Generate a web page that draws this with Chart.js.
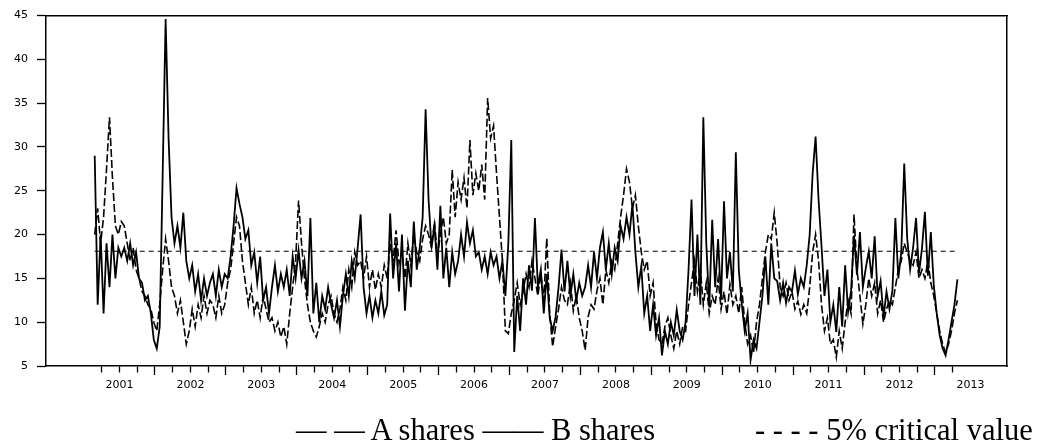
<!DOCTYPE html>
<html>
<head>
<meta charset="utf-8">
<script src="https://cdn.jsdelivr.net/npm/chart.js@4.4.1/dist/chart.umd.min.js"></script>
<style>
  html, body { margin: 0; padding: 0; background: #fff; }
  #wrap { position: relative; width: 1037px; height: 446px; overflow: hidden; }
  #chart { position: absolute; left: 0; top: 0; }
  .legend {
    position: absolute; top: 415px;
    font-family: 'Liberation Serif', 'Times New Roman', serif;
    font-size: 30.5px; line-height: 30px; color: #000; white-space: pre;
  }
</style>
</head>
<body>
<div id="wrap">
  <canvas id="chart" width="1037" height="446"></canvas>
  <div class="legend" style="left:296px">— — A shares —— B shares</div>
  <div class="legend" style="left:755px">- - - - 5% critical value</div>
</div>
<script>
// 每半月一个点，2001年2月起
var START_YEAR = 2001.15;
var STEP = 1 / 24;
var CRITICAL_VALUE = 18.1;
var YEAR_LABELS = ['2001', '2002', '2003', '2004', '2005', '2006', '2007',
  '2008', '2009', '2010', '2011', '2012', '2013'];

// A shares（虚线）
var aShares = [
  20, 23, 19, 22, 27.5, 33.4, 26.5, 21, 20, 21.5,
  21, 19, 17, 18.5, 16, 15, 13.5, 13, 12, 11.5,
  10, 9, 12, 16, 19.5, 17, 14, 13, 11, 12.5,
  10, 7.5, 9, 11.5, 9.5, 12, 10.5, 13, 11, 12.5,
  12, 10.5, 13, 11, 12, 14.5, 16, 19, 22, 21,
  17, 14.5, 12, 14, 11, 12.5, 10.5, 13, 11.5, 10,
  10.5, 9, 10, 8.3, 9.5, 7.5, 11, 14, 17, 23.9,
  19, 15, 12, 10, 9, 8.3, 9.5, 11, 10, 12,
  13, 11, 10, 11.5, 14, 12.5, 16, 14, 18, 16.5,
  17, 15, 17.5, 14, 16, 13.7, 15.5, 14, 16.5, 15,
  19, 17, 20.5, 16.7, 18, 15, 19, 16.5, 20, 18,
  17, 19.5, 21, 20, 18.5, 21.5, 17.5, 20, 22, 19,
  20, 27.4, 22, 26, 24, 26.5, 23, 30.8, 24.5, 27,
  25, 28, 24, 35.6, 31, 32.4, 27, 22, 17, 9,
  8.7, 11, 12.5, 14.5, 12, 13.5, 15.5, 14, 17, 15,
  13, 15.5, 12.5, 19.6, 11, 7.2, 9.5, 11.5, 14, 12.5,
  12, 14.5, 11.3, 13, 10.5, 9, 6.8, 10.6, 12, 11.5,
  13.6, 15, 12, 16, 14.5, 17, 16, 19, 22, 24.5,
  27.5, 26, 23, 24.5, 21, 18, 16, 17, 13, 14.5,
  10, 8, 7.5, 9.5, 10.5, 8.5, 7, 9, 7.5, 9.5,
  9, 12, 14.5, 17, 13.5, 16, 12, 14.5, 11, 13,
  12, 15, 11.5, 13.5, 10.9, 14.3, 12, 13, 11, 14,
  10, 7.5, 8.5, 6.5, 10, 12, 15, 18, 20, 19.5,
  22.5, 19, 14, 13, 14.5, 12.5, 13.5, 11.5, 12.4, 10.9,
  12, 11, 14, 18, 20, 17, 12, 9, 10.5, 7.5,
  8, 6, 9, 7, 10, 12.5, 11, 22.3, 16, 13,
  9.8, 12, 15, 13, 14.5, 11, 12.5, 10, 11.5, 12.5,
  12, 14, 16, 17, 19, 18, 17, 16.5, 18, 15,
  16, 15, 17, 14.5, 13, 11, 9, 7.5, 6.5, 7.5,
  9, 11, 12.5
];

// B shares（实线）
var bShares = [
  29, 12, 20, 11, 19, 14, 20, 15, 18.5, 17.5,
  18.5, 17, 19, 16.5, 18, 15, 14.5, 12.5, 13, 11,
  8, 7, 9.5, 26.8, 44.6, 31, 22, 19, 21, 18.5,
  22.5, 17, 15, 16.5, 13.5, 15.5, 12.5, 15, 13, 14.5,
  15.5, 13, 16, 14, 15.5, 15, 17.5, 21, 25.3, 23.5,
  22, 19.5, 20.5, 16.5, 18, 14.5, 17.5, 12.5, 14, 11,
  14, 16.5, 13.5, 15.5, 14, 16, 13, 17.5, 15, 18.2,
  15, 17, 13, 21.9, 11, 14.5, 10, 13, 11.5, 14,
  12, 10.5, 12.5, 9.5, 13, 15.5, 13, 17, 15, 18.5,
  22.3, 14, 11, 13, 10.5, 12.5, 11, 13.5, 10.8, 12,
  22.4, 15, 19, 13.5, 20, 11.3, 17, 14, 21.5, 16,
  18.5, 22, 34.3, 24, 18.5, 21, 16, 23.3, 15, 18.5,
  14, 18, 15.5, 17, 20, 17.5, 21.4, 19, 20.5, 17.5,
  18, 16, 17.5, 15.5, 18, 16.5, 17.5, 15, 17, 13,
  19, 30.8, 6.6, 13, 9, 15, 12, 16.5, 13.6, 21.9,
  14, 16, 11, 15.5, 10.5, 9, 10.6, 14, 18.3, 13.5,
  17, 13, 15.5, 12.5, 14.5, 13, 14, 16.5, 14, 18,
  15, 18.5, 20.3, 16, 19, 15.5, 18.5, 17, 21, 19.5,
  22, 20, 23.5, 18, 14, 16.4, 11, 13, 9, 12,
  8.5, 10.5, 6.2, 9, 7.5, 10, 8.5, 11.4, 9, 8,
  10, 16, 24, 13, 20, 12, 33.4, 19, 11.7, 21.7,
  14, 19.5, 12.5, 23.8, 15, 18, 13.5, 29.4, 16, 12.1,
  9, 11, 5.7, 8, 7, 10, 13, 17.5, 12, 19,
  15, 14.7, 12.5, 14.5, 12.2, 14, 13.5, 15.9, 13.2, 15,
  14, 16.5, 20, 27, 31.2, 24, 18.7, 13, 16, 10,
  12, 8.9, 14, 9.5, 16.5, 11.2, 13.6, 19.9, 15.4, 20.3,
  14, 16.2, 18.1, 15, 19.8, 13, 14.7, 10.6, 13.5, 11.5,
  13.6, 21.9, 15, 18, 28.1, 19.6, 16, 18.5, 21.9, 15.6,
  18.4, 22.6, 15.3, 20.3, 14.2, 11, 8.5, 7, 6.2, 8,
  10, 12, 14.9
];

var xs = bShares.map(function(v, i) { return START_YEAR + i * STEP; });
var lastX = xs[xs.length - 1];

function toPoints(values) {
  return values.map(function(v, i) { return { x: xs[i], y: v }; });
}

// 季度刻度，年份标签放在年中刻度上
var xTicks = [];
YEAR_LABELS.forEach(function(label) {
  var y = parseInt(label, 10);
  [0, 0.25, 0.5, 0.75].forEach(function(q) {
    var v = y + q;
    if (v >= xs[0] && v <= 2013.5) xTicks.push(v);
  });
});

var axisFont = { family: "'DejaVu Sans', sans-serif", size: 11 };

new Chart(document.getElementById('chart').getContext('2d'), {
  type: 'line',
  data: {
    datasets: [
      {
        label: 'A shares',
        data: toPoints(aShares),
        borderColor: '#000',
        borderWidth: 1.6,
        borderDash: [8, 3],
        pointRadius: 0,
        tension: 0,
        fill: false
      },
      {
        label: 'B shares',
        data: toPoints(bShares),
        borderColor: '#000',
        borderWidth: 1.8,
        pointRadius: 0,
        tension: 0,
        fill: false
      },
      {
        label: '5% critical value',
        data: [{ x: xs[0], y: CRITICAL_VALUE }, { x: lastX, y: CRITICAL_VALUE }],
        borderColor: '#000',
        borderWidth: 1.2,
        borderDash: [5, 4],
        pointRadius: 0,
        fill: false
      }
    ]
  },
  options: {
    responsive: false,
    animation: false,
    layout: { padding: { top: 12, right: 30, bottom: 40, left: 0 } },
    plugins: {
      legend: { display: false },
      tooltip: { enabled: false }
    },
    scales: {
      x: {
        type: 'linear',
        position: 'bottom',
        min: 2000.463,
        max: 2014.016,
        afterBuildTicks: function(axis) {
          axis.ticks = xTicks.map(function(v) { return { value: v }; });
        },
        afterFit: function(axis) { axis.height = 40; },
        ticks: {
          autoSkip: false,
          maxRotation: 0,
          padding: 4,
          color: '#000',
          font: axisFont,
          callback: function(val) {
            return (val % 1 === 0.5) ? String(Math.floor(val)) : '';
          }
        },
        grid: {
          drawOnChartArea: false,
          tickLength: 9,
          tickWidth: 1.3,
          tickColor: function(ctx) {
            return (ctx.tick && ctx.tick.value > lastX) ? 'rgba(0,0,0,0)' : '#000';
          },
          tickBorderDash: function(ctx) {
            return (ctx.tick && ctx.tick.value % 1 !== 0) ? [6, 30] : [];
          }
        },
        border: { color: '#000', width: 1.5 }
      },
      x2: {
        type: 'linear',
        position: 'top',
        ticks: { display: false },
        grid: { display: false },
        border: { color: '#000', width: 1.5 },
        afterFit: function(axis) { axis.height = 0; }
      },
      y: {
        min: 5,
        max: 45,
        ticks: {
          stepSize: 5,
          padding: 9,
          color: '#000',
          font: axisFont
        },
        grid: {
          drawOnChartArea: false,
          tickLength: 9,
          tickWidth: 1.3,
          tickColor: '#000'
        },
        border: { color: '#000', width: 1.5 },
        afterFit: function(axis) { axis.width = 46; }
      },
      y2: {
        position: 'right',
        ticks: { display: false },
        grid: { display: false },
        border: { color: '#000', width: 1.5 },
        afterFit: function(axis) { axis.width = 0; }
      }
    }
  }
});
</script>
</body>
</html>
